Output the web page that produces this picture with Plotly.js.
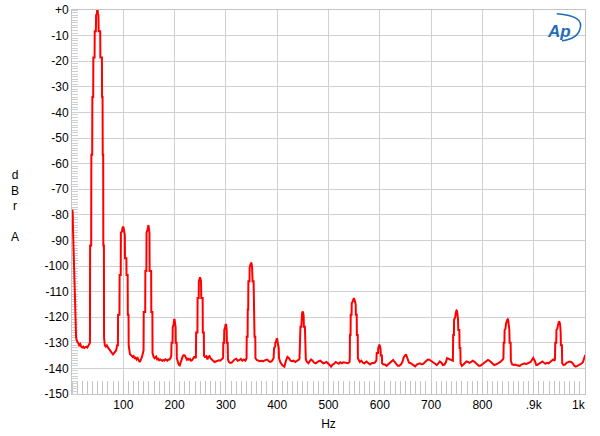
<!DOCTYPE html>
<html>
<head>
<meta charset="utf-8">
<script src="https://cdn.plot.ly/plotly-3.0.1.min.js"></script>
<style>html,body{margin:0;padding:0;background:#fff;}#chart{width:600px;height:436px;}</style>
</head>
<body>
<div id="chart"></div>
<script>
// Spectrum trace (frequency in Hz, level in dBr A)
const freqHz = [
0.8,1.5,2,3,4,5,6,7,8,10,12,14,16,18,20,22,24,26,28,30,32,34,35,
35.3,37.4,37.7,39.4,39.7,41.3,41.6,44,44.3,46.5,47,48.5,49,50,50.5,51.5,52,55,55.3,58.3,58.6,59.6,59.9,60.8,61.1,62.2,62.5,
64,66,68,70,72,74,76,78,80,82,84,86,88,89.5,
89.8,92.5,92.8,95,95.3,97.5,98.5,99.5,100.5,101.5,103,103.3,106,106.3,108.5,108.8,110.2,110.5,
112,113,116,118,120,122,124,126,128,130,132,134,136,137,
139.5,139.8,142.7,143,145,145.3,147,148,149,150,151,151.3,154.3,154.6,156.7,157,
158,159,161,164,166,168,170,172,174,176,178,180,182,184,186,188,190,192,193,
193.5,194,196,196.3,198,199,200,201,202,202.3,204,204.3,
206,208,210,212,214,216,218,220,222,224,226,228,230,232,234,236,238,240,
241.5,242,244.5,244.8,247,247.3,248.5,249.5,250.5,251.5,252,254.7,255,257,257.3,
259,262,264,266,268,270,272,275,278,280,283,286,289,292,294,
294.5,295,296.5,296.8,298.5,299.5,300.5,301.5,302,303.5,304,
306,308,311,314,317,320,323,326,329,332,335,338,340,
340.3,340.6,342.3,342.6,343.5,343.8,346,346.3,348,349,350,351,352,354,354.3,355.5,355.8,357.3,357.6,
360,363,366,369,372,375,378,381,384,387,390,393,
393.5,394,396,396.3,398,399,400,401,402,403,403.5,
406,410,414,417,420,423,426,429,432,435,438,441,443,
443.5,443.8,445,445.3,447,447.3,448.5,449.5,450.5,451.5,452,454,454.3,455.5,455.8,
458,461,464,466,469,472,475,478,481,484,487,490,493,496,499,502,505,508,511,514,517,520,523,526,529,532,535,538,541,
541.5,541.8,543,543.3,545,545.3,547,548.5,549.5,550.5,551.5,553,553.3,555,555.3,557,557.3,
559,561,564,567,570,574,578,581,584,587,590,593,
593.5,594,596.5,597,599,600,601.5,602,604,604.5,
607,610,613,616,619,622,626,629,632,635,638,641,644,647,651,654,657,660,663,666,669,672,675,678,681,684,687,690,693,696,699,702,705,708,711,714,717,720,723,726,729,731,
742.5,743,744.5,744.8,747,748.5,749.5,750.5,751.5,752.5,753,755,755.5,757,757.5,
760,763,766,769,772,775,778,781,784,787,790,793,796,799,802,805,808,811,814,817,820,823,826,829,832,835,838,840,
841,841.5,843,843.3,845,846,848.5,849.5,850.5,851.5,852.5,853,855,855.5,
858,861,864,867,870,873,876,879,882,885,888,891,894,897,899,902,905,908,911,914,917,920,923,926,929,932,935,938,941,
941.5,942,944,944.3,946,948,949,950.5,951.5,952.5,953,955,955.5,
958,961,964,967,970,973,976,979,982,985,988,991,994,996,998,1000,1002
];
const levelDbr = [
-78,-80,-86,-95,-104,-110,-115,-124,-128,-129.5,-130,-131,-130.5,-131.5,-131.8,-131.5,-132,-131.8,-131.5,-131.8,-131.2,-130.8,-130,
-92,-92,-56.5,-56.5,-34,-34,-18.6,-18.6,-8.3,-8.3,-2,-1.5,0,0,-1.5,-2,-8.3,-8.3,-18.6,-18.6,-34,-34,-56.5,-56.5,-92,-92,-128,
-131,-131.5,-131,-131.8,-132.5,-133,-133.5,-134,-134.5,-134,-133.5,-133,-131,-131,
-119,-119,-103.5,-103.5,-87,-86.5,-85,-84.6,-85,-86.5,-88,-97,-97,-103.5,-103.5,-119,-119,-131,
-133,-134.5,-135,-135.5,-135.2,-136,-135.8,-136.5,-136,-137,-137.5,-136.8,-136,-135,
-133,-118,-118,-102,-102,-87,-86,-84.2,-84,-85.5,-87,-102,-102,-118,-118,-134,
-135,-135.5,-136,-135.4,-136.5,-136.2,-136.8,-136.5,-136.8,-137,-136.7,-137,-136.5,-136.8,-137,-136.5,-136.5,-136,-135.5,
-135,-130,-130,-124,-123,-121,-121,-122.5,-124,-130,-130,-136,
-137.5,-138.5,-138.8,-137.5,-136,-135.2,-134.8,-135,-135.8,-136.6,-136.2,-136.6,-136.3,-137,-136.8,-136,-135.5,-135.5,
-136,-126,-126,-112.5,-112.5,-106,-105,-104.4,-105,-106,-112.5,-112.5,-126,-126,-135,
-135.5,-135.2,-136.5,-135.5,-135.2,-136,-136.5,-137,-137.5,-137.4,-137,-136.8,-137,-136.5,-136,
-135.5,-130,-130,-125,-124,-122.7,-123,-125,-130,-130,-136.5,
-137.5,-137.8,-137.8,-137,-136.5,-136.2,-137,-136.8,-136.3,-137,-136.5,-137,-136.5,
-136,-127.6,-127.6,-117,-117,-106,-106,-100.5,-99.5,-98.7,-99,-100.5,-106,-106,-117,-117,-127.6,-127.6,-136,
-136.7,-137,-137.2,-137,-137.3,-137,-136.6,-136.6,-137.3,-137.5,-137,-136,
-135,-132,-131.5,-130,-129.5,-128.3,-128.5,-130,-132,-132,-136,
-137.5,-138.8,-139.3,-137,-135.5,-136,-137,-137.2,-137,-137.5,-137,-136.8,-136.5,
-136,-130,-130,-123.7,-123.7,-119.5,-118.5,-117.8,-118.2,-119.5,-123.7,-123.7,-130,-130,-136.5,
-137.5,-138,-137,-136.5,-137,-137.8,-138,-137.5,-137.2,-137,-137.6,-138,-137.8,-137.5,-138,-138.5,-139.3,-138.5,-138.2,-137.5,-138,-138.2,-137.6,-138,-137.6,-137.8,-138,-138,-137.5,
-136,-127,-127,-119,-119,-114.5,-114,-113,-112.6,-113,-114.5,-115,-119,-119,-127,-127,-136,
-137,-137.5,-137,-137.8,-138,-137.3,-138,-138.5,-138,-138,-137.8,-137,
-136.5,-134,-134,-132,-130.9,-131,-132.5,-135,-135,-138,
-138.5,-138.5,-139,-138.5,-138,-137.5,-136.7,-137.5,-138.2,-139,-139,-138.5,-137.5,-135.5,-134.5,-136,-137.8,-138,-138.5,-139,-139.2,-138.5,-138.2,-138,-138.4,-138.3,-137.8,-137,-136.6,-136.5,-137,-137.6,-137.8,-138.2,-138.7,-138,-137.3,-137.8,-138.7,-138.5,-137.5,-136,
-137,-127,-127,-121,-120,-118,-117.4,-117.6,-119,-121,-125,-125,-132,-132,-138,
-139,-138.5,-137.8,-137.3,-137.5,-137.8,-137.5,-137,-137.3,-138,-138.5,-139,-139,-138.5,-138,-137.5,-137,-136.7,-137,-137.5,-138.3,-138.7,-138.5,-138,-137.8,-137.5,-137,-136.5,
-136,-130,-130,-125,-124.5,-122.5,-121,-120.8,-121.3,-123,-125,-130,-130,-137,
-138.5,-138.7,-138.5,-138.8,-139,-139,-138.5,-138.4,-138,-138.3,-138,-137.8,-137.5,-136.5,-135.9,-137,-138.7,-138.5,-138,-137.5,-137.3,-137.8,-138.2,-137.8,-138,-137.5,-136.8,-136.5,-137,
-136,-130,-130,-125,-124.5,-122.5,-121.7,-122,-123,-125.5,-131,-131,-138,
-138.7,-138.5,-137.8,-137.5,-137.3,-137.5,-138,-139,-139.3,-139,-138.7,-138.5,-138,-137.5,-136.5,-135,-134.8
];

const yTickVals = [0,-10,-20,-30,-40,-50,-60,-70,-80,-90,-100,-110,-120,-130,-140,-150];
const yTickText = ["+0","-10","-20","-30","-40","-50","-60","-70","-80","-90","-100","-110","-120","-130","-140","-150"];
const xTickVals = [100,200,300,400,500,600,700,800,900,1000];
const xTickText = ["100","200","300","400","500","600","700","800",".9k","1k\u00A0\u00A0\u00A0\u00A0"];

const font = "Arial, 'Liberation Sans', sans-serif";
const gridCol = "#d0d0d0";

const trace = {
  x: freqHz, y: levelDbr, type: "scatter", mode: "lines",
  line: {color: "#ff0000", width: 2}, hoverinfo: "skip", cliponaxis: false
};

const layout = {
  width: 600, height: 436,
  margin: {l: 72, r: 15, t: 10, b: 42},
  paper_bgcolor: "#ffffff", plot_bgcolor: "#ffffff",
  showlegend: false,
  font: {family: font, size: 12, color: "#000"},
  xaxis: {
    range: [0, 1000], tickvals: xTickVals, ticktext: xTickText,
    showgrid: true, gridcolor: gridCol, gridwidth: 1, layer: "below traces",
    zeroline: false, showline: true, linecolor: "#c4c4c4", linewidth: 1, mirror: true,
    ticks: "", tickfont: {family: font, size: 12, color: "#000"},
    minor: {dtick: 10, ticks: "inside", ticklen: 13, tickcolor: "#c4c4c4", tickwidth: 1, showgrid: false},
    title: {text: "Hz", font: {family: font, size: 12, color: "#000"}, standoff: 8}
  },
  yaxis: {
    range: [-150, 0], tickvals: yTickVals, ticktext: yTickText,
    showgrid: true, gridcolor: gridCol, gridwidth: 1, layer: "below traces",
    zeroline: false, showline: true, linecolor: "#c4c4c4", linewidth: 1, mirror: true,
    ticks: "", tickfont: {family: font, size: 12, color: "#000"},
    minor: {dtick: 1, ticks: "inside", ticklen: 6, tickcolor: "#cfcfcf", tickwidth: 1, showgrid: false}
  },
  annotations: [
    {xref: "paper", yref: "paper", x: -0.111, y: 0.49, xanchor: "center", yanchor: "middle",
     text: "d<br>B<br>r<br><br>A", showarrow: false, align: "center",
     font: {family: font, size: 12, color: "#000"}},
    {xref: "paper", yref: "paper", x: 0.976, y: 0.975, xanchor: "right", yanchor: "top",
     text: "<i><b>Ap</b></i>", showarrow: false,
     font: {family: font, size: 17, color: "#1f6db8"}}
  ],
  shapes: [
    {type: "path", xref: "paper", yref: "paper",
     path: "M 0.945 0.99 Q 1.0 0.985 0.99 0.95 Q 0.985 0.925 0.955 0.92",
     line: {color: "#1f6db8", width: 1.5}}
  ]
};

Plotly.newPlot("chart", [trace], layout, {staticPlot: true, displayModeBar: false});
</script>
</body>
</html>
